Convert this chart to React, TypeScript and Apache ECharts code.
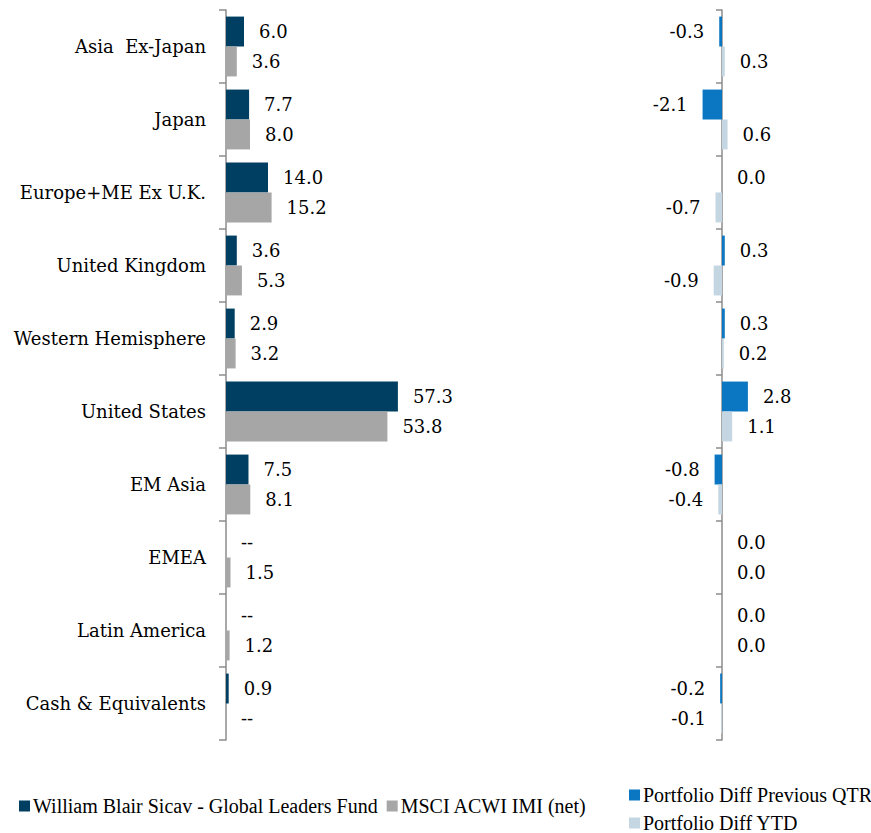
import React, { useEffect, useRef } from "react";
import * as echarts from "echarts";

const categories = [
  "Asia  Ex-Japan",
  "Japan",
  "Europe+ME Ex U.K.",
  "United Kingdom",
  "Western Hemisphere",
  "United States",
  "EM Asia",
  "EMEA",
  "Latin America",
  "Cash & Equivalents",
];
const fundValues = [6.0, 7.7, 14.0, 3.6, 2.9, 57.3, 7.5, 0, 0, 0.9];
const fundLabels = ["6.0", "7.7", "14.0", "3.6", "2.9", "57.3", "7.5", "--", "--", "0.9"];
const benchValues = [3.6, 8.0, 15.2, 5.3, 3.2, 53.8, 8.1, 1.5, 1.2, 0];
const benchLabels = ["3.6", "8.0", "15.2", "5.3", "3.2", "53.8", "8.1", "1.5", "1.2", "--"];
const diffQtr = [-0.3, -2.1, 0.0, 0.3, 0.3, 2.8, -0.8, 0.0, 0.0, -0.2];
const diffYtd = [0.3, 0.6, -0.7, -0.9, 0.2, 1.1, -0.4, 0.0, 0.0, -0.1];

const FUND = "William Blair Sicav - Global Leaders Fund";
const BENCH = "MSCI ACWI IMI (net)";
const QTR = "Portfolio Diff Previous QTR";
const YTD = "Portfolio Diff YTD";

const FONT = "DejaVu Serif";
const LEGEND_FONT = "Liberation Serif";

export default function App() {
  const ref = useRef<HTMLDivElement>(null);
  useEffect(() => {
    if (!ref.current) return;
    const chart = echarts.init(ref.current, undefined, { renderer: "svg" });
    const labelStyle = { fontFamily: FONT, fontSize: 18, color: "#000" };
    const diffData = (arr: number[]) =>
      arr.map((v) => ({
        value: v,
        label: { position: v < 0 ? "left" : "right" },
      }));
    const axisLineStyle = { color: "#8c8c8c", width: 1.5 };
    const legendBase = {
      icon: "rect",
      itemWidth: 11,
      itemHeight: 11,
      itemGap: 9,
      padding: 0,
      textStyle: { fontFamily: LEGEND_FONT, fontSize: 20, color: "#000", padding: [0, 0, 0, -2] },
    };
    chart.setOption({
      animation: false,
      backgroundColor: "#fff",
      grid: [
        { left: 226, top: 10, width: 240, height: 730 },
        { left: 685, top: 10, width: 74, height: 730 },
      ],
      xAxis: [
        { type: "value", gridIndex: 0, min: 0, max: 80, show: false },
        { type: "value", gridIndex: 1, min: -4, max: 4, show: false },
      ],
      yAxis: [
        {
          type: "category",
          gridIndex: 0,
          data: categories,
          inverse: true,
          axisLine: { show: true, lineStyle: axisLineStyle },
          axisTick: { show: true, length: 7, lineStyle: axisLineStyle },
          axisLabel: { ...labelStyle, margin: 20 },
          splitLine: { show: false },
        },
        {
          type: "category",
          gridIndex: 1,
          data: categories,
          inverse: true,
          axisLine: { show: true, onZero: true, lineStyle: axisLineStyle },
          axisTick: { show: true, length: 6, lineStyle: axisLineStyle },
          axisLabel: { show: false },
          splitLine: { show: false },
        },
      ],
      legend: [
        { ...legendBase, data: [FUND, BENCH], left: 19, top: 796, orient: "horizontal" },
        { ...legendBase, data: [QTR], left: 629, top: 785, orient: "horizontal" },
        { ...legendBase, data: [YTD], left: 629, top: 813, orient: "horizontal" },
      ],
      series: [
        {
          name: FUND,
          type: "bar",
          xAxisIndex: 0,
          yAxisIndex: 0,
          data: fundValues,
          barGap: "0%",
          barCategoryGap: "18%",
          itemStyle: { color: "#003f62" },
          label: {
            show: true,
            position: "right",
            distance: 15,
            ...labelStyle,
            formatter: (p: any) => fundLabels[p.dataIndex],
          },
        },
        {
          name: BENCH,
          type: "bar",
          xAxisIndex: 0,
          yAxisIndex: 0,
          data: benchValues,
          barGap: "0%",
          barCategoryGap: "18%",
          itemStyle: { color: "#a6a6a6" },
          label: {
            show: true,
            position: "right",
            distance: 15,
            ...labelStyle,
            formatter: (p: any) => benchLabels[p.dataIndex],
          },
        },
        {
          name: QTR,
          type: "bar",
          xAxisIndex: 1,
          yAxisIndex: 1,
          data: diffData(diffQtr),
          barGap: "0%",
          barCategoryGap: "18%",
          itemStyle: { color: "#0b76c1" },
          label: {
            show: true,
            distance: 15,
            ...labelStyle,
            formatter: (p: any) => diffQtr[p.dataIndex].toFixed(1),
          },
        },
        {
          name: YTD,
          type: "bar",
          xAxisIndex: 1,
          yAxisIndex: 1,
          data: diffData(diffYtd),
          barGap: "0%",
          barCategoryGap: "18%",
          itemStyle: { color: "#c4d6e2" },
          label: {
            show: true,
            distance: 15,
            ...labelStyle,
            formatter: (p: any) => diffYtd[p.dataIndex].toFixed(1),
          },
        },
      ],
    });
    return () => chart.dispose();
  }, []);
  return <div ref={ref} style={{ width: 871, height: 833, position: "absolute", left: 0, top: 0 }} />;
}
